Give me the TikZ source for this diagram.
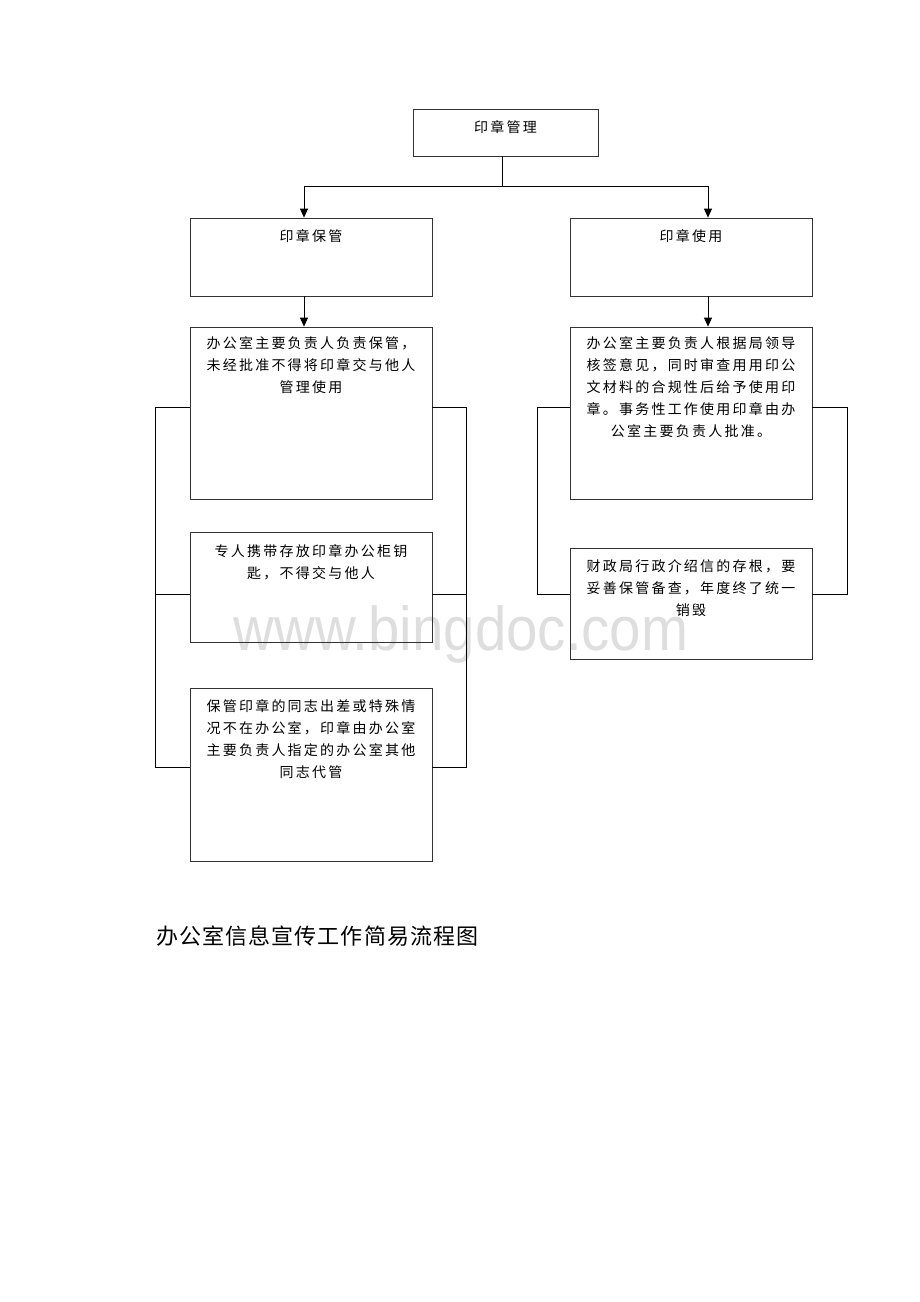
\documentclass[tikz,border=0pt]{standalone}
\usepackage{fontspec}
\setmainfont{Noto Sans CJK SC}
\newfontfamily\boxfont[LetterSpace=16]{Noto Sans CJK SC}
\newfontfamily\titlefont[LetterSpace=5]{Noto Sans CJK SC}
\newfontfamily\wmfont{Liberation Sans}
\usetikzlibrary{arrows.meta}
\begin{document}
\begin{tikzpicture}[x=1pt,y=-1pt,
  box/.style={draw=black!80,line width=0.8pt,inner sep=0pt,minimum width=242pt},
  txt/.style={anchor=north,align=center,inner sep=0pt,font=\boxfont\fontsize{14pt}{22pt}\selectfont},
  link/.style={draw=black,line width=0.8pt},
  arr/.style={link,-{Triangle[length=9pt,width=8pt]}}]
\useasboundingbox (0,0) rectangle (920,1302);
\node[text=black!13,font=\wmfont\fontsize{62pt}{62pt}\selectfont,anchor=base,xscale=0.91,inner sep=0pt] (wm) at (461,650) {www.bingdoc.com};
% nodes
\node[box,minimum width=185pt,minimum height=47pt] (top) at (505.5,132.5) {};
\node[txt] (toptxt) at (505.5,120) {印章管理};
\node[box,minimum height=78pt] (bg) at (311,257) {};
\node[txt] (bgtxt) at (311,229) {印章保管};
\node[box,minimum height=78pt] (sy) at (691,257) {};
\node[txt] (sytxt) at (691,229) {印章使用};
\node[box,minimum height=172pt] (l1) at (311,413) {};
\node[txt] (l1t) at (311,336) {办公室主要负责人负责保管，\\未经批准不得将印章交与他人\\管理使用};
\node[box,minimum height=110pt] (l2) at (311,587) {};
\node[txt] (l2t) at (311,544) {专人携带存放印章办公柜钥\\匙，不得交与他人};
\node[box,minimum height=173pt] (l3) at (311,774.5) {};
\node[txt] (l3t) at (311,699) {保管印章的同志出差或特殊情\\况不在办公室，印章由办公室\\主要负责人指定的办公室其他\\同志代管};
\node[box,minimum height=172pt] (r1) at (691,413) {};
\node[txt] (r1t) at (691,336) {办公室主要负责人根据局领导\\核签意见，同时审查用用印公\\文材料的合规性后给予使用印\\章。事务性工作使用印章由办\\公室主要负责人批准。};
\node[box,minimum height=111pt] (r2) at (691,603.5) {};
\node[txt] (r2t) at (691,559) {财政局行政介绍信的存根，要\\妥善保管备查，年度终了统一\\销毁};
\node[anchor=west,inner sep=0pt,font=\titlefont\fontsize{22pt}{26pt}\selectfont] (title) at (156,936) {办公室信息宣传工作简易流程图};
% connectors
\coordinate (split) at (502,186);
\draw[link] (502,156) -- (split);
\draw[arr] (split) -| (bg.north -| 304,0);
\draw[arr] (split) -| (sy.north -| 708,0);
\draw[arr] (bg.south -| 304,0) -- (l1.north -| 304,0);
\draw[arr] (sy.south -| 708,0) -- (r1.north -| 708,0);
% left brackets
\coordinate (la) at (155,407); \coordinate (lb) at (155,594); \coordinate (lc) at (155,767);
\coordinate (ra) at (466,407); \coordinate (rb) at (466,594); \coordinate (rc) at (466,767);
\draw[link] (l1.west |- la) -- (la) -- (lc) -- (l3.west |- lc);
\draw[link] (lb) -- (l2.west |- lb);
\draw[link] (l1.east |- ra) -- (ra) -- (rc) -- (l3.east |- rc);
\draw[link] (rb) -- (l2.east |- rb);
% right brackets
\coordinate (ma) at (537,407); \coordinate (mb) at (537,594);
\coordinate (na) at (847,407); \coordinate (nb) at (847,594);
\draw[link] (r1.west |- ma) -- (ma) -- (mb) -- (r2.west |- mb);
\draw[link] (r1.east |- na) -- (na) -- (nb) -- (r2.east |- nb);
\end{tikzpicture}
\end{document}
